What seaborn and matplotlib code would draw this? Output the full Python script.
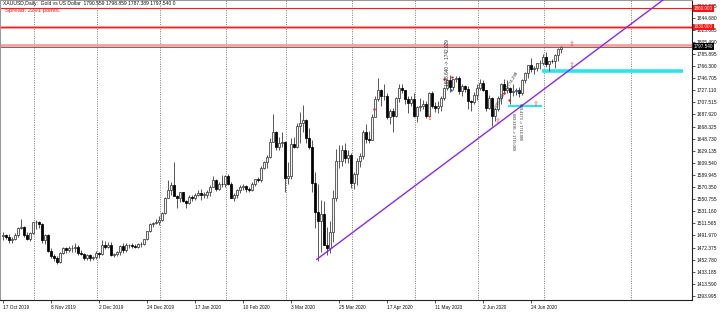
import numpy as np
import pandas as pd
import matplotlib
matplotlib.use("Agg")
import matplotlib.pyplot as plt
import matplotlib.transforms as mtransforms
import seaborn as sns

# ---------------- data ----------------
holidays = ["2019-12-25", "2020-01-01", "2020-04-10"]
opens = [1491,1492,1490,1484,1487,1492,1504,1505,1492,1487,1496,
         1513,1514,1510,1484,1492,1467,1459,1456,1449,1463,1471,1468,1471,1472,1474,1464,1462,1455,1461,1455,1457,
         1464,1462,1477,1474,1476,1460,1462,1465,1475,1469,1476,1476,1475,1474,1478,1478,1486,1499,1511,1512,1514,
         1517,1528,1552,1566,1574,1556,1552,1562,1548,1544,1554,1552,1557,1560,1558,1558,1563,1571,1582,1567,1576,1575,
         1589,1576,1553,1557,1566,1570,1572,1568,1566,1576,1583,1581,1602,1611,1619,1643,1659,1635,1642,1643,
         1585,1588,1640,1636,1669,1674,1679,1649,1636,1577,1530,1515,1526,1477,1471,1498,1552,1612,1613,1630,1617,1622,
         1577,1591,1613,1620,1660,1648,1646,1683,1713,1727,1717,1718,1683,1694,1686,1714,1730,1727,1713,1707,1713,
         1686,1700,1701,1705,1686,1722,1702,1698,1701,1715,1730,1743,1733,1745,1747,1726,1734,1729,1709,1708,1719,
         1730,1739,1727,1699,1714,1685,1697,1715,1737,1727,1730,1725,1726,1727,1722,1743,1755,1768,1761,1763,1771,1772,
         1781,1769,1775,1774,1784,1794]
highs = [1498,1495,1494,1489,1496,1506,1518,1507,1497,1497,1514,
         1517,1515,1512,1494,1494,1471,1462,1458,1466,1474,1474,1475,1476,1479,1476,1469,1463,1462,1462,1459,1467,
         1466,1485,1483,1482,1481,1464,1467,1477,1480,1479,1478,1480,1478,1480,1481,1487,1500,1512,1514,1519,1524,
         1530,1554,1582,1578,1611,1558,1563,1563,1549,1558,1558,1561,1565,1568,1562,1566,1574,1588,1584,1578,1590,1590,
         1592,1578,1561,1568,1574,1575,1573,1570,1578,1584,1586,1604,1613,1623,1649,1689,1661,1651,1660,1645,
         1611,1649,1652,1674,1692,1703,1680,1666,1646,1595,1575,1549,1548,1505,1515,1565,1632,1638,1638,1642,1631,1626,
         1595,1618,1625,1663,1672,1661,1689,1718,1747,1729,1738,1722,1697,1699,1716,1738,1737,1728,1717,1718,1722,
         1702,1715,1712,1709,1724,1726,1708,1710,1718,1732,1746,1752,1746,1750,1750,1737,1736,1734,1712,1724,1738,
         1745,1744,1728,1719,1716,1698,1718,1739,1745,1744,1733,1737,1731,1732,1745,1757,1768,1779,1767,1772,1776,1786,
         1789,1775,1777,1785,1796,1799]
lows = [1484,1486,1480,1480,1485,1490,1502,1490,1484,1483,1494,
        1502,1504,1480,1478,1466,1456,1450,1445,1447,1462,1463,1465,1465,1466,1461,1460,1452,1453,1451,1453,1454,
        1455,1461,1470,1472,1458,1457,1458,1461,1464,1465,1472,1472,1472,1472,1474,1476,1485,1498,1506,1511,1509,
        1516,1526,1552,1558,1556,1537,1546,1546,1536,1543,1547,1550,1556,1549,1553,1553,1556,1570,1564,1565,1570,1570,
        1574,1552,1548,1553,1561,1566,1563,1562,1564,1572,1578,1579,1600,1601,1618,1643,1630,1630,1636,1563,
        1576,1584,1633,1634,1641,1660,1641,1632,1563,1504,1451,1465,1476,1460,1464,1482,1548,1601,1605,1609,1610,1569,
        1568,1574,1603,1615,1641,1641,1646,1683,1709,1701,1711,1680,1673,1659,1684,1708,1722,1705,1691,1701,1683,
        1676,1693,1696,1682,1683,1698,1692,1691,1694,1711,1728,1725,1728,1740,1721,1718,1724,1696,1693,1705,1712,
        1727,1726,1693,1697,1670,1678,1693,1705,1721,1723,1705,1717,1720,1716,1720,1739,1747,1757,1753,1758,1762,1768,
        1764,1758,1771,1763,1774,1787]
closes = [1492,1490,1484,1487,1492,1504,1505,1492,1487,1496,1513,
          1514,1510,1484,1492,1467,1459,1456,1449,1463,1471,1468,1471,1472,1474,1464,1462,1455,1461,1455,1457,1464,
          1462,1477,1474,1476,1460,1462,1465,1475,1469,1476,1476,1475,1474,1478,1478,1486,1499,1511,1512,1514,1517,
          1528,1552,1566,1574,1556,1552,1562,1548,1544,1554,1552,1557,1560,1558,1558,1563,1571,1582,1567,1576,1575,1589,
          1576,1553,1557,1566,1570,1572,1568,1566,1576,1583,1581,1602,1611,1619,1643,1659,1635,1642,1643,1585,
          1588,1640,1636,1669,1674,1679,1649,1636,1577,1530,1515,1526,1477,1471,1498,1552,1612,1613,1630,1617,1622,1577,
          1591,1613,1620,1660,1648,1646,1683,1713,1727,1717,1718,1683,1694,1686,1714,1730,1727,1713,1707,1713,1686,
          1700,1701,1705,1686,1722,1702,1698,1701,1715,1730,1743,1733,1745,1747,1726,1734,1729,1709,1708,1719,1730,
          1739,1727,1699,1714,1685,1697,1715,1737,1727,1730,1725,1726,1727,1722,1743,1755,1768,1761,1763,1771,1772,1781,
          1769,1775,1774,1784,1794,1797.54]

price_ticks = [1393.995, 1413.590, 1433.185, 1452.780, 1472.375, 1491.970, 1511.565, 1531.160,
               1550.755, 1570.350, 1589.945, 1609.540, 1629.135, 1648.730, 1668.325, 1687.920,
               1707.515, 1727.110, 1746.705, 1766.300, 1785.895, 1805.490, 1825.085, 1844.680, 1864.275]
date_tick_every = 16
separator_bars = [11, 32, 53, 75, 95, 117, 138, 159, 181, 210]

trend_x = [104.5, 226]
trend_y = [1453.0, 1895.0]
red_levels = [1859.7, 1829.5]
red_labels = ["1860.000", "1830.000"]
pink_levels = [1829.0, 1800.8]
bid_price = 1797.54
cyan_long = (179.6, 226.7, 1758.0)
cyan_short = (168.3, 179.7, 1702.0)
arrow_x = [142.3, 165.0, 177.7, 189.7, 189.7]
arrow_y = [1682.0, 1677.0, 1705.0, 1802.0, 1768.0]
dot_red_x = [147.0, 149.7, 123.7, 167.0, 168.7]
dot_red_y = [1745.0, 1748.5, 1696.0, 1722.0, 1711.0]
dot_blue_x = [149.3, 171.7]
dot_blue_y = [1728.0, 1726.0]

title = "XAUUSD,Daily:  Gold vs US Dollar  1790.559 1798.859 1787.389 1797.540 0"
spread_text = "Spread: 2291 points."

# ---------------- build ----------------
dates = [d for d in pd.bdate_range("2019-10-17", "2020-07-08") if d.strftime("%Y-%m-%d") not in holidays]
df = pd.DataFrame({"date": dates, "open": opens, "high": highs, "low": lows, "close": closes})
df["i"] = np.arange(len(df))

sns.set_theme(style="white")
plt.rcParams["font.family"] = ["Liberation Sans", "DejaVu Sans"]

fig = plt.figure(figsize=(7.2, 3.16), dpi=100)
ax = fig.add_axes([0.0, 16 / 316, 692 / 720, 300 / 316])
ax.set_facecolor("white")

ymax = 1873.2
ymin = 1873.2 - 300 * 1.619
ax.set_ylim(ymin, ymax)
ax.set_xlim(-1, -1 + 692 / 3)

# separators
for s in separator_bars:
    ax.axvline(s - 0.67, color="#6a6a6a", lw=0.6, ls=(0, (1.2, 1.6)), zorder=0)

# horizontal levels
for lv in pink_levels:
    ax.axhline(lv, color="#ff9c9c", lw=2.0, zorder=1)
for lv in red_levels:
    ax.axhline(lv, color="#ff1a1a", lw=0.8, zorder=1.1)
ax.axhline(bid_price, color="#555555", lw=0.6, zorder=1.1)

# cyan bands
ax.hlines(cyan_long[2], cyan_long[0], cyan_long[1], color="#27e6f0", lw=2.6, zorder=1.5)
ax.hlines(cyan_short[2], cyan_short[0], cyan_short[1], color="#27e6f0", lw=1.5, zorder=1.5)

# candles
up = df["close"] >= df["open"]
ax.vlines(df["i"], df["low"], df["high"], color="#2a2a2a", lw=0.55, zorder=2)
bottom = np.minimum(df["open"], df["close"])
height = np.maximum(np.abs(df["close"] - df["open"]), 0.6)
ax.bar(df["i"][up], height[up], bottom=bottom[up], width=0.62, color="#f4f4f4",
       edgecolor="#3a3a3a", linewidth=0.55, zorder=3)
ax.bar(df["i"][~up], height[~up], bottom=bottom[~up], width=0.62, color="black",
       edgecolor="black", linewidth=0.55, zorder=3)

# trend line
sns.lineplot(x=trend_x, y=trend_y, color="#8a2be2", lw=1.0, ax=ax, zorder=4)

# arrows & markers
for xa, ya in zip(arrow_x, arrow_y):
    ax.text(xa, ya, "\u21e7", color="#ff4040", fontsize=5, ha="center", va="center",
            family=["DejaVu Sans"], zorder=5)
ax.scatter(dot_red_x, dot_red_y, s=3, color="#e02020", zorder=5, linewidths=0)
ax.scatter(dot_blue_x, dot_blue_y, s=3, color="#2050d0", zorder=5, linewidths=0)

# rotated annotations
ax.text(148.0, 1734.0, "1698.640 -> 1742.029", rotation=90, fontsize=3.4,
        ha="center", va="bottom", zorder=6)
ax.text(164.7, 1695.0, "1695.049 -> 1774.298", rotation=59, fontsize=3.2,
        ha="left", va="bottom", rotation_mode="anchor", zorder=6)
ax.text(170.0, 1690.0, "669.3195 -> 1715.069", rotation=270, fontsize=2.7,
        ha="center", va="top", zorder=6)
ax.text(172.3, 1706.0, "669.4173 -> 1714.999", rotation=270, fontsize=2.7,
        ha="center", va="top", zorder=6)

# axes / ticks
ax.yaxis.tick_right()
ax.set_yticks(price_ticks)
ax.set_yticklabels([f"{v:.3f}" for v in price_ticks])
ax.tick_params(axis="y", which="both", right=True, left=False, length=2.5, width=0.5,
               labelsize=3.5, pad=1, colors="#111111")
xt = list(range(0, len(df), date_tick_every))
ax.set_xticks(xt)
ax.set_xticklabels([f"{d.day} {d.strftime('%b %Y')}" for d in df["date"].iloc[xt]])
ax.tick_params(axis="x", which="both", bottom=True, length=2.5, width=0.5,
               labelsize=3.4, pad=1, colors="#111111")
for lab in ax.get_xticklabels():
    lab.set_ha("left")
ax.set_xlabel("")
ax.set_ylabel("")
for side in ["right", "bottom"]:
    ax.spines[side].set_color("#222222")
    ax.spines[side].set_linewidth(0.8)
for side in ["left", "top"]:
    ax.spines[side].set_color("#9a9a9a")
    ax.spines[side].set_linewidth(0.8)
if ax.get_legend():
    ax.get_legend().remove()

# right-axis price boxes
trans = mtransforms.blended_transform_factory(ax.transAxes, ax.transData)
for lv, lab in zip(red_levels, red_labels):
    ax.text(1.003, lv, lab, transform=trans, fontsize=3.3, color="white", ha="left", va="center",
            bbox=dict(boxstyle="square,pad=0.2", fc="#ff1010", ec="none"), clip_on=False, zorder=10)
ax.text(1.003, bid_price, f"{bid_price:.3f}", transform=trans, fontsize=3.3, color="white",
        ha="left", va="center", bbox=dict(boxstyle="square,pad=0.2", fc="black", ec="none"),
        clip_on=False, zorder=10)

# header texts
ax.text(0.004, 0.997, title, transform=ax.transAxes, fontsize=3.6, ha="left", va="top", color="#111111")
ax.text(0.007, 0.972, spread_text, transform=ax.transAxes, fontsize=4.3, ha="left", va="top", color="#ff1a1a")

fig.savefig("out.png", dpi=100)
